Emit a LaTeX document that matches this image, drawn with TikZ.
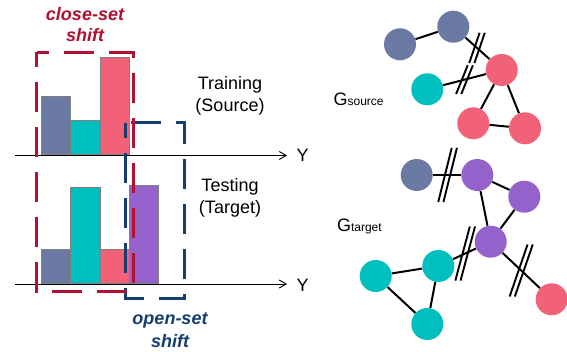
\documentclass[tikz,border=0pt]{standalone}
\usepackage{fontspec}
\setmainfont{Liberation Sans}
\usetikzlibrary{arrows.meta}

\definecolor{nodeblue}{RGB}{106,122,163}
\definecolor{nodecyan}{RGB}{0,191,191}
\definecolor{nodered}{RGB}{241,98,121}
\definecolor{nodepurple}{RGB}{149,98,204}
\definecolor{closered}{RGB}{176,18,50}
\definecolor{openblue}{RGB}{20,62,112}

\begin{document}
\begin{tikzpicture}[x=1pt,y=-1pt,semithick]
\tikzstyle{vtx}=[circle,minimum size=32pt,inner sep=0pt]
\tikzstyle{bar}=[draw=gray,line width=1pt]
\tikzstyle{axis}=[line width=0.9pt,-{Straight Barb[length=7pt,width=8pt]}]
\tikzstyle{shiftbox}=[line width=3pt,dash pattern=on 30pt off 15pt,dash phase=15pt]
\tikzstyle{link}=[draw,line width=2pt]
\tikzstyle{cutline}=[line width=1.9pt]
\tikzstyle{txt}=[font=\fontsize{18}{22}\selectfont,align=center]
\fill[white] (0,0) rectangle (567,352);
\useasboundingbox (0,0) rectangle (567,352);

% training histogram
\draw[bar,fill=nodeblue] (41,154.3) rectangle (70.6,96.7);
\draw[bar,fill=nodecyan] (70.6,154.3) rectangle (100,120.7);
\draw[bar,fill=nodered] (100,154.3) rectangle (129.3,57.7);
% testing histogram
\draw[bar,fill=nodeblue] (41,283.3) rectangle (70.6,250);
\draw[bar,fill=nodecyan] (70.6,283.3) rectangle (100,187.3);
\draw[bar,fill=nodered] (100,283.3) rectangle (129.3,250);
\draw[bar,fill=nodepurple] (129.3,283.3) rectangle (158.5,185.7);

% axes
\coordinate (o1) at (15,155.5);
\coordinate (o2) at (15,284);
\node[txt] (y1) at (302.7,155) {Y};
\node[txt] (y2) at (302.7,285.5) {Y};
\draw[axis,shorten >=6pt] (o1) -- (o1 -| y1.west);
\draw[axis,shorten >=6pt] (o2) -- (o2 -| y2.west);

% shift boxes
\draw[shiftbox,openblue] (125,122.7) rectangle (184,299);
\draw[shiftbox,closered] (36.7,52.3) rectangle (133.3,291.7);

\node[txt,closered,font=\fontsize{18}{21}\selectfont\bfseries\itshape] (close) at (85,24.5) {close-set\\shift};
\node[txt,openblue,font=\fontsize{18}{23}\selectfont\bfseries\itshape] (open) at (170,330) {open-set\\shift};
\node[txt] (train) at (230,96) {Training\\(Source)};
\node[txt] (test) at (230,198) {Testing\\(Target)};

% graphs
\node[anchor=base west,inner sep=0pt,font=\fontsize{18}{22}\selectfont] (gs) at (333.3,106)
  {G{\fontsize{12}{14}\selectfont source}};
\node[anchor=base west,inner sep=0pt,font=\fontsize{18}{22}\selectfont] (gt) at (336.7,231.7)
  {G{\fontsize{12}{14}\selectfont target}};

\node[vtx,fill=nodeblue] (b1) at (400,44.3) {};
\node[vtx,fill=nodeblue] (b2) at (453.3,26.7) {};
\node[vtx,fill=nodered] (r1) at (501.7,70) {};
\node[vtx,fill=nodecyan] (c1) at (427.3,89.3) {};
\node[vtx,fill=nodered] (r2) at (473.3,123.3) {};
\node[vtx,fill=nodered] (r3) at (525,128.3) {};
\node[vtx,fill=nodeblue] (b3) at (416.7,175) {};
\node[vtx,fill=nodepurple] (p1) at (477.3,175) {};
\node[vtx,fill=nodepurple] (p2) at (524.3,196.7) {};
\node[vtx,fill=nodepurple] (p3) at (490.7,241.7) {};
\node[vtx,fill=nodecyan] (c2) at (438.3,266) {};
\node[vtx,fill=nodecyan] (c3) at (375.7,276) {};
\node[vtx,fill=nodecyan] (c4) at (427.3,324) {};
\node[vtx,fill=nodered] (r4) at (551.7,299.3) {};

\path[every edge/.style=link] (b1) edge (b2)
      (b2) edge node[coordinate,pos=.48] (m1) {} (r1)
      (c1) edge node[coordinate] (m2) {} (r1)
      (r1) edge (r2)
           edge (r3)
      (r2) edge (r3)
      (b3) edge node[coordinate,pos=.52] (m3) {} (p1)
      (p1) edge (p2)
           edge (p3)
      (p2) edge (p3)
      (c2) edge node[coordinate,pos=.53] (m4) {} (p3)
      (p3) edge node[coordinate] (m5) {} (r4)
      (c2) edge (c3)
           edge (c4)
      (c3) edge (c4);

% broken links
\foreach \m/\l/\a in {m1/32/71,m2/31/68,m3/56/76,m4/56/75,m5/55/71}
  \foreach \s in {-2.6,2.6}
    \draw[cutline] ([xshift=\s pt]\m) ++(-\a:\l/2) -- ++(180-\a:\l);
\end{tikzpicture}
\end{document}
